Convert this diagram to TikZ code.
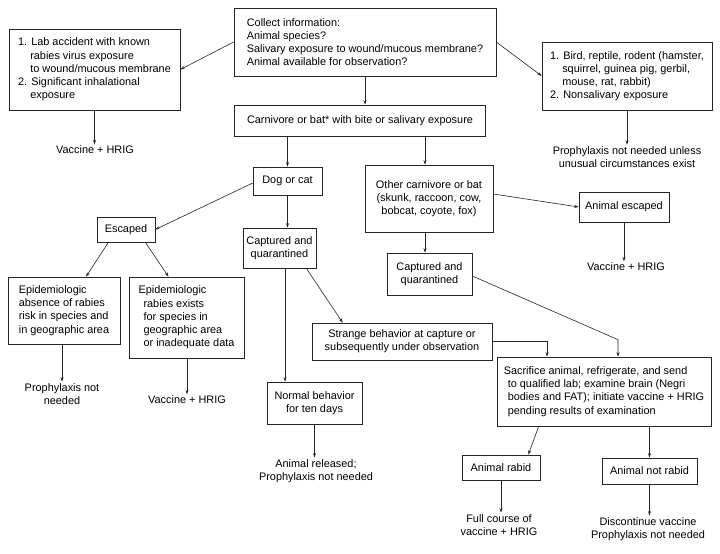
\documentclass[tikz,border=0pt]{standalone}
\usepackage{fontspec}
\setmainfont{Liberation Sans}
\usetikzlibrary{arrows.meta,calc}
\newcommand{\dfont}{\fontsize{10.9}{13.2}\selectfont}
\newcommand{\hang}[1]{\hbox to \widthof{#1}{}}
\begin{document}
\begin{tikzpicture}[x=1pt,y=-1pt,
  box/.style={draw=black!85, line width=0.6pt, inner sep=2pt, font=\dfont, align=center},
  lbl/.style={inner sep=1.5pt, font=\dfont, align=center},
  arr/.style={draw=black!85, line width=0.6pt, -{Stealth[length=4.5pt,width=3pt]}},
  ln/.style={draw=black!85, line width=0.6pt}]
\useasboundingbox (0,0) rectangle (720,554);
\fill[white] (0,0) rectangle (720,554);

% boxes
\node[box, minimum width=262pt, minimum height=68pt, align=left] (collect) at (365,42)
  {Collect information:\\Animal species?\\Salivary exposure to wound/mucous membrane?\\Animal available for observation?};
\node[box, minimum width=171pt, minimum height=81pt, align=left] (lab) at (94.5,69.5)
  {1. Lab accident with known\\\hphantom{1.\ }rabies virus exposure\\\hphantom{1.\ }to wound/mucous membrane\\2. Significant inhalational\\\hphantom{2.\ }exposure};
\node[box, minimum width=170pt, minimum height=68pt, align=left] (bird) at (627,76)
  {1. Bird, reptile, rodent (hamster,\\\hphantom{1.\ }squirrel, guinea pig, gerbil,\\\hphantom{1.\ }mouse, rat, rabbit)\\2. Nonsalivary exposure};
\node[box, minimum width=251pt, minimum height=31pt] (carn) at (360,120.5)
  {Carnivore or bat* with bite or salivary exposure};
\node[box, minimum width=69pt, minimum height=28pt] (dogcat) at (287.5,181) {Dog or cat};
\node[box, minimum width=58pt, minimum height=25pt] (escaped) at (126,229.5) {Escaped};
\node[box, minimum width=73pt, minimum height=40pt] (dogcap) at (279.5,248) {Captured and\\quarantined};
\node[box, minimum width=112pt, minimum height=67pt, align=left] (epia) at (64,310.5)
  {Epidemiologic\\absence of rabies\\risk in species and\\in geographic area};
\node[box, minimum width=115pt, minimum height=81pt, align=left] (epib) at (186.5,317.5)
  {Epidemiologic\\\hspace{5pt}rabies exists\\\hspace{5pt}for species in\\\hspace{5pt}geographic area\\\hspace{5pt}or inadequate data};
\node[box, minimum width=128pt, minimum height=67pt] (other) at (429,198.5)
  {Other carnivore or bat\\(skunk, raccoon, cow,\\bobcat, coyote, fox)};
\node[box, minimum width=90pt, minimum height=30pt] (escb) at (624,207) {Animal escaped};
\node[box, minimum width=85pt, minimum height=42pt] (othercap) at (429.5,274) {Captured and\\quarantined};
\node[box, minimum width=180pt, minimum height=37pt] (strange) at (402,341.5)
  {Strange behavior at capture or\\subsequently under observation};
\node[box, minimum width=95pt, minimum height=42pt] (normal) at (314.5,403) {Normal behavior\\for ten days};
\node[box, minimum width=214pt, minimum height=69pt, align=left] (sacr) at (604,391.5)
  {Sacrifice animal, refrigerate, and send\\\hspace{4pt}to qualified lab; examine brain (Negri\\\hspace{4pt}bodies and FAT); initiate vaccine + HRIG\\\hspace{4pt}pending results of examination};
\node[box, minimum width=78pt, minimum height=25pt] (rabid) at (501,467.5) {Animal rabid};
\node[box, minimum width=95pt, minimum height=26pt] (notrabid) at (649.5,471) {Animal not rabid};

% plain texts
\node[lbl] (va) at (95,150) {Vaccine + HRIG};
\node[lbl] (pa) at (627,157) {Prophylaxis not needed unless\\unusual circumstances exist};
\node[lbl] (vb) at (626,267) {Vaccine + HRIG};
\node[lbl] (pb) at (62,394) {Prophylaxis not\\needed};
\node[lbl] (vc) at (187,400) {Vaccine + HRIG};
\node[lbl] (rel) at (316,471) {Animal released;\\Prophylaxis not needed};
\node[lbl] (full) at (499,525) {Full course of\\vaccine + HRIG};
\node[lbl] (disc) at (648,529) {Discontinue vaccine\\Prophylaxis not needed};

% connectors
\draw[arr] (collect.west) -- (lab.east);
\draw[arr] (collect.east) -- (bird.west);
\draw[arr] (lab.south) -- (lab.south |- va.north);
\draw[arr] (bird.south) -- (bird.south |- pa.north);
\draw[arr] (collect.south) -- (collect.south |- carn.north);
\draw[arr] (dogcat.north |- carn.south) -- (dogcat.north);
\draw[arr] ([xshift=-4pt]other.north |- carn.south) -- ([xshift=-4pt]other.north);
\draw[arr] ([yshift=-2pt]dogcat.west) -- (escaped.east);
\draw[arr] (dogcat.south) -- (dogcat.south |- dogcap.north);
\draw[arr] ($(escaped.south west)!0.2!(escaped.south east)$) -- ([xshift=22pt]epia.north);
\draw[arr] ($(escaped.south west)!0.83!(escaped.south east)$) -- ([xshift=-18pt]epib.north);
\draw[arr] (pb.north |- epia.south) -- (pb.north);
\draw[arr] (vc.north |- epib.south) -- (vc.north);
\draw[arr] ([xshift=-10pt]dogcap.south east) -- ([xshift=31pt]strange.north west);
\draw[arr] ([xshift=5.5pt]dogcap.south) -- ([xshift=5.5pt]dogcap.south |- normal.north);
\draw[arr] (normal.south) -- (normal.south |- rel.north);
\draw[arr] ([yshift=4.5pt]other.east) -- (escb.west);
\draw[arr] (escb.south) -- (escb.south |- vb.north);
\draw[arr] ([xshift=-4pt]other.south) -- ([xshift=-4pt]other.south |- othercap.north);
\draw[arr] ([yshift=-2pt]othercap.east) -- ([xshift=14pt,yshift=17pt]sacr.north) -- ([xshift=14pt]sacr.north);
\draw[arr] (strange.east) -| ([xshift=-57pt]sacr.north);
\draw[arr] ([xshift=42pt]sacr.south west) -- ([xshift=-12pt]rabid.north east);
\draw[arr] (notrabid.north |- sacr.south) -- (notrabid.north);
\draw[arr] (rabid.south) -- (rabid.south |- full.north);
\draw[arr] (notrabid.south) -- (notrabid.south |- disc.north);
\end{tikzpicture}
\end{document}
